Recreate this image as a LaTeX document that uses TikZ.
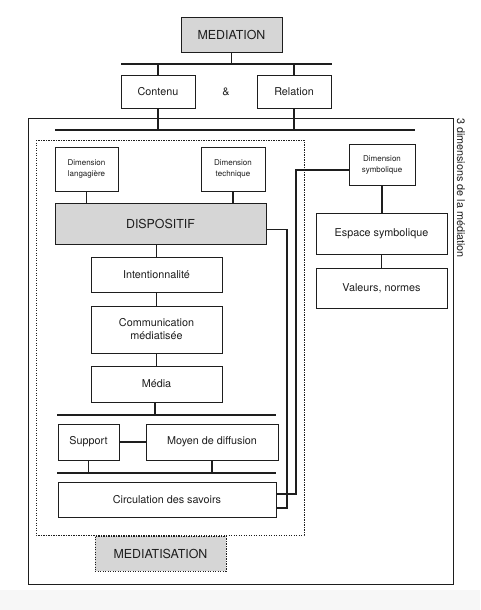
\documentclass[tikz,border=0pt]{standalone}
\usepackage{fontspec}
\setmainfont{TeX Gyre Heros}
\definecolor{cinza}{RGB}{214,214,214}
\definecolor{traco}{RGB}{30,30,30}
\definecolor{fundo}{RGB}{247,247,247}

\begin{document}
\begin{tikzpicture}[x=1pt, y=-1pt, %1 unidade = 1 pixel
	caixa/.style={draw=traco, line width=0.8pt, fill=white, text=traco, align=center, inner sep=0pt, font=\fontsize{10.8}{13}\selectfont},
	caixacinza/.style={caixa, fill=cinza, font=\fontsize{12.4}{14}\selectfont},
	dim/.style={caixa, font=\fontsize{8}{11}\selectfont},
	pontos/.style={dash pattern=on 1.2pt off 1.3pt},
	barra/.style={draw=traco, line width=2.2pt},
	liga/.style={draw=traco, line width=1.9pt}]
					%Fundo
				\useasboundingbox (0,0) rectangle (480,610);
				\fill[fundo] (0,590) rectangle (480,610);
				\draw[traco, line width=0.8pt] (28,118) rectangle (453,584); %Quadro externo
				\draw[traco, line width=0.9pt, pontos] (36,140) rectangle (304,535); %Quadro pontilhado
					%Caixas
				\node[caixacinza, minimum width=101pt, minimum height=35pt] (med) at (231.5,34.5) {MEDIATION};
				\node[caixa, minimum width=74pt, minimum height=33pt] (cont) at (158,91.5) {Contenu};
				\node[caixa, minimum width=74pt, minimum height=33pt] (rel) at (294,91.5) {Relation};
				\node[text=traco, font=\fontsize{10.8}{13}\selectfont] (et) at (226,92) {\&};
				\node[dim, minimum width=63pt, minimum height=44pt] (dlang) at (86.5,169) {Dimension\\langagière};
				\node[dim, minimum width=64pt, minimum height=44pt] (dtech) at (233,169) {Dimension\\technique};
				\node[dim, minimum width=66pt, minimum height=41pt] (dsym) at (382,164.5) {Dimension\\symbolique};
				\node[caixacinza, minimum width=211pt, minimum height=41pt] (disp) at (160.5,223.5) {DISPOSITIF};
				\node[caixa, minimum width=131pt, minimum height=35pt] (inten) at (156.5,274.5) {Intentionnalité};
				\node[caixa, minimum width=131pt, minimum height=47pt] (comm) at (156.5,329.5) {Communication\\médiatisée};
				\node[caixa, minimum width=131pt, minimum height=36pt] (media) at (156.5,384) {Média};
				\node[caixa, minimum width=61pt, minimum height=36pt] (supp) at (88.5,442) {Support};
				\node[caixa, minimum width=132pt, minimum height=36pt] (moyen) at (212,442) {Moyen de diffusion};
				\node[caixa, minimum width=218pt, minimum height=35pt] (circ) at (167,499.5) {Circulation des savoirs};
				\node[caixacinza, pontos, minimum width=131pt, minimum height=35pt] (mtis) at (160.5,553.5) {MEDIATISATION};
				\node[caixa, minimum width=131pt, minimum height=41pt] (esp) at (381.5,233.5) {Espace symbolique};
				\node[caixa, minimum width=131pt, minimum height=40pt] (val) at (381.5,288) {Valeurs, normes};
				\node[rotate=-90, text=traco, font=\fontsize{10.8}{13}\selectfont] (titre) at (461,188) {3 dimensions de la médiation};
					%Barras
				\coordinate (b1e) at (121,64);  \coordinate (b1d) at (332,64);
				\coordinate (b2e) at (55,130);  \coordinate (b2d) at (415,130);
				\coordinate (b3e) at (57,415);  \coordinate (b3d) at (276,415);
				\coordinate (b4e) at (57,473);  \coordinate (b4d) at (276,473);
				\draw[barra] (b1e) -- (b1d);
				\draw[barra] (b2e) -- (b2d);
				\draw[barra] (b3e) -- (b3d);
				\draw[barra] (b4e) -- (b4d);
					%Ligacoes
				\draw[liga] (med.south) -- (med.south |- b1e);
				\draw[liga] (cont.north) -- (cont.north |- b1e);
				\draw[liga] (rel.north) -- (rel.north |- b1e);
				\draw[liga] (cont.south) -- (cont.south |- b2e);
				\draw[liga] (rel.south) -- (rel.south |- b2e);
				\draw[liga] (dlang.south) -- (dlang.south |- disp.north);
				\draw[liga] (dtech.south) -- (dtech.south |- disp.north);
				\draw[liga] (inten.north |- disp.south) -- (inten.north);
				\draw[liga] (inten.south) -- (comm.north);
				\draw[liga] (comm.south) -- (media.north);
				\draw[liga] ([xshift=-1.5pt]media.south) -- ([xshift=-1.5pt]media.south |- b3e);
				\draw[liga] (supp.east) -- (moyen.west);
				\draw[liga] (supp.south) -- (supp.south |- b4e);
				\draw[liga] (moyen.south) -- (moyen.south |- b4e);
				\draw[liga] (dsym.south) -- (dsym.south |- esp.north);
				\draw[liga] (esp.south) -- (val.north);
				\draw[liga] ([yshift=-6pt]disp.east) -- ++(21,0) |- ([yshift=-8.5pt]circ.east);
				\draw[liga] ([yshift=-5.5pt]dsym.west) -- ++(-53,0) |- ([yshift=5.5pt]circ.east);
\end{tikzpicture}
\end{document}
